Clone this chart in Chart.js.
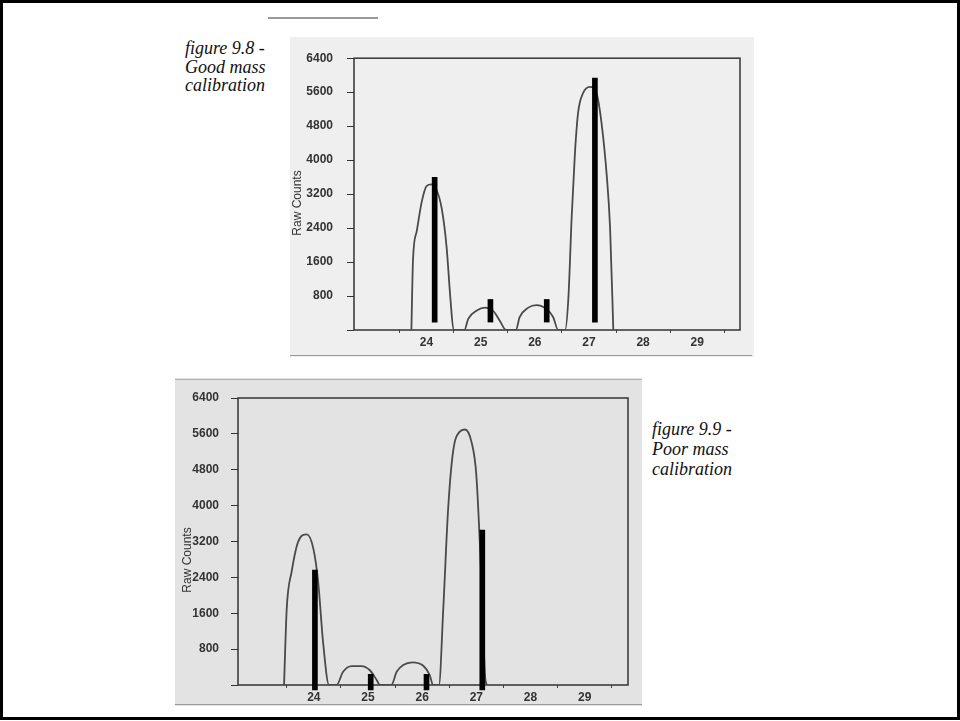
<!DOCTYPE html>
<html>
<head>
<meta charset="utf-8">
<script src="https://cdn.jsdelivr.net/npm/chart.js@4.4.0/dist/chart.umd.min.js"></script>
<style>
html, body { margin: 0; padding: 0; background: #fff; }
#page { position: relative; width: 960px; height: 721px; overflow: hidden; background: #fff; }
#frame { position: absolute; left: 0; top: 0; width: 960px; height: 720px; box-sizing: border-box; border: 3px solid #000; pointer-events: none; }
.panel { position: absolute; }
#topPanel { left: 290px; top: 37px; width: 464px; height: 320px; background: #efefef; }
#botPanel { left: 175px; top: 378px; width: 467px; height: 328px; background: #e3e3e3; }
.scan { position: absolute; height: 1px; background: #9a9a9a; }
.cap { position: absolute; font-family: "Liberation Serif", serif; font-style: italic; font-size: 18px; color: #111; white-space: nowrap; }
</style>
</head>
<body>
<div id="page">
  <div class="scan" style="left:268px;top:17px;width:110px;height:2px;background:#999"></div>
  <div class="panel" id="topPanel"><canvas id="good" width="464" height="320"></canvas></div>
  <div class="panel" id="botPanel"><canvas id="poor" width="467" height="328"></canvas></div>
  <div class="scan" style="left:290px;top:355px;width:462px"></div>
  <div class="scan" style="left:175px;top:379px;width:467px;background:#b0b0b0"></div>
  <div class="scan" style="left:175px;top:704px;width:467px"></div>
  <div class="cap" style="left:185px;top:39px;line-height:18.5px">figure 9.8 -<br>Good mass<br>calibration</div>
  <div class="cap" style="left:652px;top:419px;line-height:20px">figure 9.9 -<br>Poor mass<br>calibration</div>
  <div id="frame"></div>
</div>
<script>
// axis ticks
const yTicks = [0, 800, 1600, 2400, 3200, 4000, 4800, 5600, 6400];
const xTicks = [24, 25, 26, 27, 28, 29];

// figure 9.8 - measured trace (mass, raw counts)
const goodX = [23.72, 23.75, 23.82, 23.91, 24.00, 24.09, 24.18, 24.28, 24.37, 24.44, 24.50,
               24.70, 24.77, 24.92, 25.08, 25.23, 25.35, 25.47,
               25.65, 25.72, 25.88, 26.03, 26.22, 26.34, 26.43,
               26.56, 26.62, 26.68, 26.74, 26.80, 26.89, 27.02, 27.14, 27.23, 27.33, 27.39, 27.45];
const goodY = [0, 1656, 2334, 3012, 3390, 3428, 3314, 2862, 1959, 752, 0,
               0, 264, 452, 527, 452, 226, 0,
               0, 301, 527, 588, 490, 301, 0,
               0, 752, 2636, 4142, 5122, 5574, 5725, 5574, 4896, 3616, 2411, 0];
// figure 9.8 - reference lines
const goodBarX = [24.15, 25.18, 26.22, 27.11];
const goodBarLow = [187, 187, 187, 187];
const goodBarHigh = [3596, 719, 719, 5933];

// figure 9.9 - measured trace
const poorX = [23.45, 23.50, 23.59, 23.71, 23.87, 23.99, 24.08, 24.17, 24.28,
               24.42, 24.54, 24.70, 24.88, 25.03, 25.16, 25.22,
               25.43, 25.53, 25.65, 25.82, 26.02, 26.14, 26.20,
               26.31, 26.39, 26.48, 26.57, 26.69, 26.79, 26.91, 27.00, 27.09, 27.16, 27.19];
const poorY = [0, 1709, 2525, 3193, 3358, 3046, 2302, 965, 0,
               0, 296, 423, 423, 334, 111, 0,
               0, 296, 446, 506, 430, 223, 0,
               0, 1709, 3938, 5199, 5645, 5698, 5422, 4680, 2451, 223, 0];
// figure 9.9 - reference lines
const poorBarX = [24.02, 25.05, 26.08, 27.11];
const poorBarLow = [-110, -110, -110, -110];
const poorBarHigh = [2563, 238, 238, 3454];

// box round the plot
const framePlugin = {
  id: 'frame',
  beforeDatasetsDraw(chart) {
    const a = chart.chartArea, ctx = chart.ctx;
    ctx.save();
    ctx.strokeStyle = '#333';
    ctx.lineWidth = 1.5;
    ctx.strokeRect(a.left, a.top, a.right - a.left, a.bottom - a.top);
    ctx.restore();
  }
};

// rotated y title, placed by hand like the scan
const yTitlePlugin = {
  id: 'yTitle',
  afterDraw(chart, args, opts) {
    const ctx = chart.ctx;
    ctx.save();
    ctx.translate(opts.x, opts.y);
    ctx.rotate(-Math.PI / 2);
    ctx.font = '12px "Liberation Sans", Arial, sans-serif';
    ctx.fillStyle = '#333';
    ctx.textAlign = 'center';
    ctx.textBaseline = 'middle';
    ctx.fillText('Raw Counts', 0, 0);
    ctx.restore();
  }
};

function makeChart(id, xs, ys, bx, blo, bhi, box) {
  const tickFont = { family: '"Liberation Sans", Arial, sans-serif', size: 12, weight: 'bold' };
  return new Chart(document.getElementById(id), {
    type: 'bar',
    plugins: [framePlugin, yTitlePlugin],
    data: {
      datasets: [
        {
          type: 'bar',
          data: bx.map((x, i) => ({ x: x, y: [blo[i], bhi[i]] })),
          backgroundColor: '#000',
          barThickness: 5,
          clip: false,
          order: 0
        },
        {
          type: 'line',
          data: xs.map((x, i) => ({ x: x, y: ys[i] })),
          borderColor: '#4a4a4a',
          borderWidth: 1.8,
          pointRadius: 0,
          fill: false,
          cubicInterpolationMode: 'monotone',
          order: 1
        }
      ]
    },
    options: {
      responsive: false,
      animation: false,
      devicePixelRatio: 1,
      layout: { padding: { left: 0, top: box.top, right: box.right, bottom: 0 } },
      plugins: {
        legend: { display: false },
        tooltip: { enabled: false },
        yTitle: { x: box.titleX, y: box.titleY }
      },
      scales: {
        x: {
          type: 'linear',
          offset: false,
          min: box.xmin,
          max: box.xmax,
          afterBuildTicks: s => { s.ticks = xTicks.map(v => ({ value: v })); },
          afterFit: s => { s.height = box.xh; },
          border: { display: false },
          grid: { drawOnChartArea: false, drawTicks: true, tickLength: 3, color: '#444' },
          ticks: { font: tickFont, color: '#333', padding: 2, maxRotation: 0 }
        },
        y: {
          type: 'linear',
          min: 0,
          max: 6400,
          afterBuildTicks: s => { s.ticks = yTicks.map(v => ({ value: v })); },
          afterFit: s => { s.width = box.yw; },
          border: { display: false },
          grid: { drawOnChartArea: false, drawTicks: true, tickLength: 7, color: '#333' },
          ticks: { font: tickFont, color: '#333', padding: box.ypad, callback: v => (v === 0 ? '' : v) }
        }
      }
    }
  });
}

makeChart('good', goodX, goodY, goodBarX, goodBarLow, goodBarHigh,
  { top: 8, right: 14, xh: 27, yw: 64, ypad: 14, xmin: 22.66, xmax: 29.79, titleX: 8, titleY: 166 });
makeChart('poor', poorX, poorY, poorBarX, poorBarLow, poorBarHigh,
  { top: 20, right: 14, xh: 21, yw: 63, ypad: 12, xmin: 22.60, xmax: 29.80, titleX: 13, titleY: 182 });
</script>
</body>
</html>
